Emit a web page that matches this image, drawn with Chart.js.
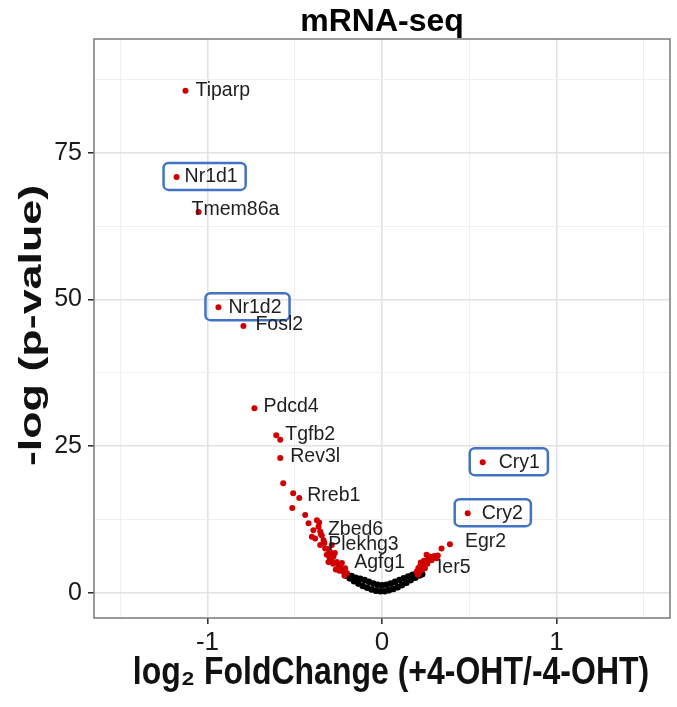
<!DOCTYPE html>
<html>
<head>
<meta charset="utf-8">
<script src="https://cdn.jsdelivr.net/npm/chart.js@4/dist/chart.umd.min.js"></script>
<style>
  html, body { margin: 0; padding: 0; background: #ffffff; }
  #wrap { width: 677px; height: 707px; }
</style>
</head>
<body>
<div id="wrap"><canvas id="c" width="677" height="707"></canvas></div>
<script>
// ---- DATA ----
const chartTitle = 'mRNA-seq';
const xTitle = 'log\u2082 FoldChange (+4-OHT/-4-OHT)';
const yTitle = '-log (p-value)';

const xMajorTicks = [-1, 0, 1];
const xMinorTicks = [-1.5, -0.5, 0.5, 1.5];
const yMajorTicks = [0, 25, 50, 75];
const yMinorTicks = [12.5, 37.5, 62.5, 87.5];

// labelled genes (significant)
const labeledGenes = ['Tiparp','Nr1d1','Tmem86a','Nr1d2','Fosl2','Pdcd4','Tgfb2','Rev3l','Rreb1','Zbed6','Plekhg3','Agfg1','Ier5','Egr2','Cry1','Cry2'];
const labeledFC    = [-1.126,-1.177,-1.051,-0.937,-0.794,-0.731,-0.606,-0.583,-0.474,-0.373,-0.354,-0.211,0.246,0.389,0.577,0.491];
const labeledP     = [85.6, 70.9, 64.9, 48.7, 45.5, 31.5, 26.9, 23.0, 16.2, 12.4, 10.5, 4.2, 5.1, 8.3, 22.3, 13.6];
const boxedGenes   = ['Nr1d1','Nr1d2','Cry1','Cry2'];

// other significant genes (red)
const sigFC = [-0.583,-0.566,-0.509,-0.514,-0.440,-0.364,-0.402,-0.383,-0.335,-0.354,-0.326,-0.297,-0.316,-0.278,-0.307,-0.259,-0.230,-0.250,-0.221,-0.202,-0.421,-0.393,-0.288,-0.345,-0.270,-0.240,-0.360,
               -0.290,-0.265,-0.245,-0.310,-0.350,-0.330,-0.215,-0.300,-0.280,-0.235,
               0.198,0.217,0.265,0.284,0.313,0.255,0.227,0.236,0.274,0.341,0.208,0.300,0.222,0.246,
               0.205,0.230,0.260,0.290,0.320,0.212,0.240];
const sigP  = [26.1,18.7,17.0,14.5,13.3,11.3,9.6,9.3,9.0,8.2,7.6,7.0,6.5,6.2,5.3,5.3,5.1,4.5,3.6,3.4,11.9,10.7,8.2,9.8,6.8,4.8,12.0,
               5.8,4.0,3.8,7.5,10.0,8.5,3.0,6.0,5.0,4.3,
               3.6,4.5,5.9,5.6,5.9,6.5,3.9,4.8,6.2,7.6,4.2,6.3,5.2,4.2,
               3.1,4.0,5.0,6.0,6.4,3.5,5.5];

// non-significant genes (black)
const nsFC = [-0.210,-0.185,-0.160,-0.135,-0.110,-0.085,-0.060,-0.035,-0.010,0.015,0.040,0.065,0.090,0.115,0.140,0.165,0.190,0.215,0.230,
              -0.200,-0.175,-0.150,-0.125,-0.100,-0.075,-0.050,-0.025,0.000,0.025,0.050,0.075,0.100,0.125,0.150,0.175,0.200,0.220];
const nsP  = [3.0,2.5,2.0,1.6,1.2,0.9,0.6,0.4,0.3,0.3,0.45,0.7,1.0,1.35,1.75,2.2,2.6,3.0,3.2,
              3.2,2.9,2.6,2.4,2.2,1.9,1.6,1.4,1.3,1.4,1.6,1.9,2.2,2.5,2.8,3.1,3.4,3.6];

// ---- STYLE ----
const FONT = '"Liberation Sans", Arial, sans-serif';
const RED = '#d10000';
const BOX_BLUE = '#4472C4';
const labelOffsets = {
  Tiparp:[10,0], Nr1d1:[8,0], Tmem86a:[-7,-2], Nr1d2:[10,0], Fosl2:[12,-1], Pdcd4:[9,-2],
  Tgfb2:[9,-1], Rev3l:[10,-1], Rreb1:[8,-2], Zbed6:[11,9], Plekhg3:[8,13], Agfg1:[9,-6],
  Ier5:[12,5], Egr2:[15,-3], Cry1:[16,0], Cry2:[14,0]
};

const redPoints = labeledGenes.map((g,i)=>({x:labeledFC[i], y:labeledP[i]}))
  .concat(sigFC.map((v,i)=>({x:v, y:sigP[i]})));
const blackPoints = nsFC.map((v,i)=>({x:v, y:nsP[i]}));

const panelBorder = {
  id: 'panelBorder',
  beforeDatasetsDraw(chart) {
    const {ctx, chartArea:a} = chart;
    ctx.save();
    ctx.strokeStyle = '#7a7a7a';
    ctx.lineWidth = 1.5;
    ctx.strokeRect(a.left, a.top, a.right - a.left, a.bottom - a.top);
    ctx.restore();
  }
};

// axis titles, drawn with the slight stretch seen in the reference
const axisTitles = {
  id: 'axisTitles',
  afterDraw(chart) {
    const {ctx, chartArea:a} = chart;
    ctx.save();
    ctx.fillStyle = '#111';
    ctx.font = 'bold 32px ' + FONT;
    ctx.textAlign = 'center';
    ctx.textBaseline = 'alphabetic';
    // x title
    ctx.save();
    ctx.translate((a.left + a.right) / 2 + 9, 684);
    ctx.scale(1, 1.22);
    ctx.fillText(xTitle, 0, 0);
    ctx.restore();
    // y title
    ctx.save();
    ctx.translate(41, (a.top + a.bottom) / 2 - 3);
    ctx.rotate(-Math.PI / 2);
    ctx.scale(1.4, 1);
    ctx.fillText(yTitle, 0, 0);
    ctx.restore();
    ctx.restore();
  }
};

const geneLabels = {
  id: 'geneLabels',
  afterDatasetsDraw(chart) {
    const {ctx, scales:{x, y}} = chart;
    ctx.save();
    ctx.font = '19.5px ' + FONT;
    ctx.textBaseline = 'middle';
    ctx.textAlign = 'left';
    labeledGenes.forEach((g, i) => {
      const px = x.getPixelForValue(labeledFC[i]);
      const py = y.getPixelForValue(labeledP[i]);
      const [dx, dy] = labelOffsets[g] || [8, 0];
      ctx.fillStyle = '#1e1e1e';
      ctx.fillText(g, px + dx, py + dy);
      if (boxedGenes.includes(g)) {
        const w = ctx.measureText(g).width;
        const left = px - 13, top = py - 14;
        const right = px + dx + w + 8;
        ctx.strokeStyle = BOX_BLUE;
        ctx.lineWidth = 2.5;
        ctx.beginPath();
        ctx.roundRect(left, top, right - left, 27, 5);
        ctx.stroke();
      }
    });
    ctx.restore();
  }
};

const xTickVals = xMinorTicks.concat(xMajorTicks).sort((a,b)=>a-b);
const yTickVals = yMinorTicks.concat(yMajorTicks).sort((a,b)=>a-b);
const isMajor = (list, c) => list.includes(c.tick && c.tick.value);

new Chart(document.getElementById('c'), {
  type: 'scatter',
  data: {
    datasets: [
      { label: 'significant', data: redPoints, backgroundColor: RED, borderColor: RED, pointRadius: 3, borderWidth: 0, pointHoverRadius: 3 },
      { label: 'not significant', data: blackPoints, backgroundColor: '#000', borderColor: '#000', pointRadius: 3.3, borderWidth: 0, pointHoverRadius: 3.3 }
    ]
  },
  options: {
    responsive: false,
    animation: false,
    events: [],
    layout: { padding: { left: 0, right: 7, top: 0, bottom: 0 } },
    plugins: {
      legend: { display: false },
      tooltip: { enabled: false },
      title: {
        display: true, text: chartTitle, fullSize: false, color: '#000',
        font: { family: FONT, size: 32, weight: 'bold', lineHeight: 1.0 },
        padding: { top: 6, bottom: 1 }
      }
    },
    scales: {
      x: {
        type: 'linear', min: -1.65, max: 1.65,
        afterBuildTicks: (s) => { s.ticks = xTickVals.map(v => ({ value: v })); },
        afterFit: (s) => { s.height = 89; },
        ticks: {
          autoSkip: false, maxRotation: 0, padding: 3, color: '#1a1a1a',
          font: { family: FONT, size: 26 },
          callback: (v) => xMajorTicks.includes(v) ? String(v) : ''
        },
        grid: {
          color: (c) => isMajor(xMajorTicks, c) ? '#e2e2e2' : '#efefef',
          lineWidth: (c) => isMajor(xMajorTicks, c) ? 1.6 : 1,
          tickColor: (c) => isMajor(xMajorTicks, c) ? '#333' : 'rgba(0,0,0,0)',
          tickLength: 6, drawTicks: true
        },
        border: { display: false },
        title: { display: false, text: xTitle }
      },
      y: {
        type: 'linear', min: -4.26, max: 94.4,
        afterBuildTicks: (s) => { s.ticks = yTickVals.map(v => ({ value: v })); },
        afterFit: (s) => { s.width = 94; },
        ticks: {
          autoSkip: false, padding: 6, color: '#1a1a1a',
          font: { family: FONT, size: 25 },
          callback: (v) => yMajorTicks.includes(v) ? String(v) : ''
        },
        grid: {
          color: (c) => isMajor(yMajorTicks, c) ? '#e2e2e2' : '#efefef',
          lineWidth: (c) => isMajor(yMajorTicks, c) ? 1.6 : 1,
          tickColor: (c) => isMajor(yMajorTicks, c) ? '#333' : 'rgba(0,0,0,0)',
          tickLength: 6, drawTicks: true
        },
        border: { display: false },
        title: { display: false, text: yTitle }
      }
    }
  },
  plugins: [panelBorder, geneLabels, axisTitles]
});
</script>
</body>
</html>
